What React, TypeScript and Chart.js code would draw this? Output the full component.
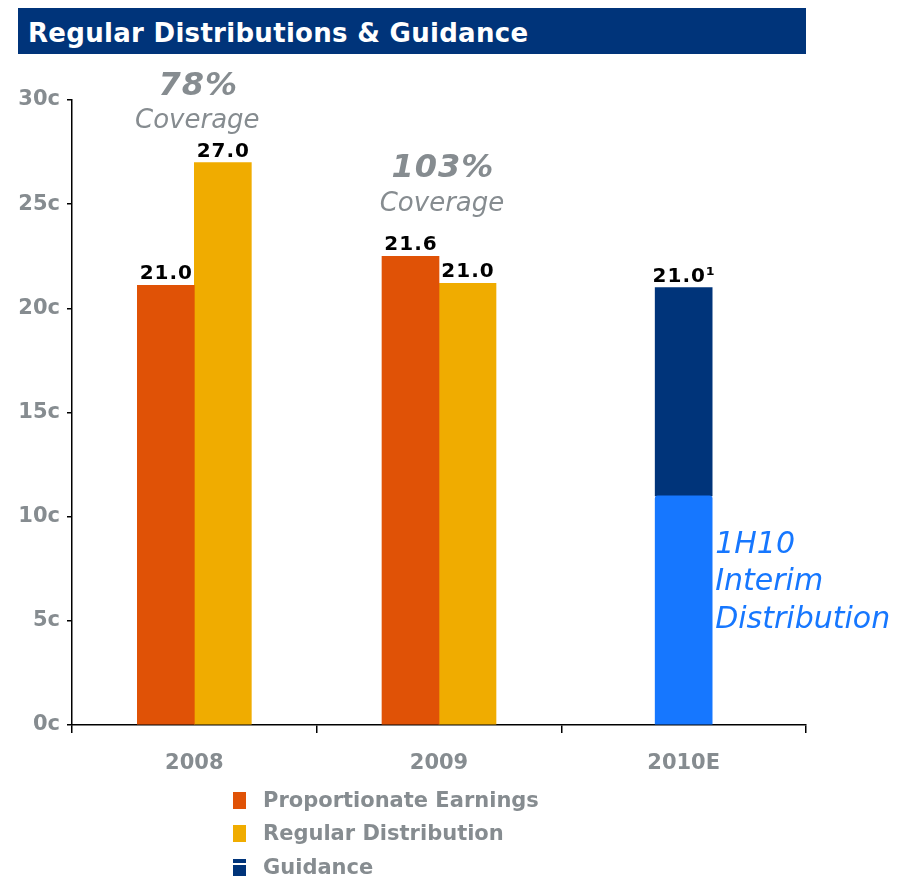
import React, { useEffect, useRef } from "react";
import { Chart, registerables } from "chart.js";

Chart.register(...registerables);

// ---------------- data ----------------
const categories = ["2008", "2009", "2010E"];
const earnings = [21.1, 22.5, null];
const distribution = [27.0, 21.2, null];
const interim = [null, null, 11.0];
const guidanceRest = [null, null, 10.0];

const earningsLabels = ["21.0", "21.6", ""];
const distributionLabels = ["27.0", "21.0", ""];
const guidanceLabels = ["", "", "21.0¹"];
const coverageLabels = ["78%", "103%", ""];
const coverageWord = "Coverage";
const interimNote = ["1H10", "Interim", "Distribution"];
const legendItems = ["Proportionate Earnings", "Regular Distribution", "Guidance"];
const titleText = "Regular Distributions & Guidance";
const yUnit = "c";

// ---------------- styles ----------------
const ORANGE = "#E05206";
const YELLOW = "#F0AC00";
const NAVY = "#00347A";
const BLUE = "#1677FF";
const GRAY = "#868C90";
const FONT = '"DejaVu Sans"';

// pixel offsets (above the tallest bar of the group) for coverage notes
const coverageOffsets = [
  { pct: 68, cov: 35 },
  { pct: 79, cov: 45 },
  { pct: 0, cov: 0 },
];

const annotPlugin = {
  id: "annot",
  afterDatasetsDraw(chart: any) {
    const ctx = chart.ctx;
    ctx.save();
    ctx.textBaseline = "alphabetic";

    const drawLabels = (dsIndex: number, labels: string[]) => {
      const meta = chart.getDatasetMeta(dsIndex);
      meta.data.forEach((el: any, i: number) => {
        const t = labels[i];
        if (!t) return;
        ctx.font = `bold 20px ${FONT}`;
        ctx.fillStyle = "#000";
        ctx.textAlign = "center";
        (ctx as any).letterSpacing = "1px";
        ctx.fillText(t, el.x + 0.5, el.y - 6);
        (ctx as any).letterSpacing = "0px";
      });
    };
    drawLabels(0, earningsLabels);
    drawLabels(1, distributionLabels);
    drawLabels(3, guidanceLabels);

    coverageLabels.forEach((t, i) => {
      if (!t) return;
      const x = chart.scales.x.getPixelForValue(i);
      const top = Math.min(
        chart.getDatasetMeta(0).data[i].y,
        chart.getDatasetMeta(1).data[i].y
      );
      const off = coverageOffsets[i];
      ctx.fillStyle = GRAY;
      ctx.textAlign = "center";
      ctx.font = `italic bold 32px ${FONT}`;
      (ctx as any).letterSpacing = "1px";
      ctx.fillText(t, x + 4, top - off.pct);
      (ctx as any).letterSpacing = "0px";
      ctx.font = `italic 26px ${FONT}`;
      ctx.fillText(coverageWord, x + 3, top - off.cov);
    });

    const el = chart.getDatasetMeta(2).data[2];
    if (el) {
      const x0 = el.x + el.width / 2 + 3;
      ctx.font = `italic 30px ${FONT}`;
      ctx.fillStyle = BLUE;
      ctx.textAlign = "left";
      interimNote.forEach((line, k) => {
        ctx.fillText(line, x0, el.y + 57 + k * 37.5);
      });
    }
    ctx.restore();
  },
};

export default function App() {
  const ref = useRef<HTMLCanvasElement | null>(null);

  useEffect(() => {
    if (!ref.current) return;
    Chart.defaults.font.family = FONT;
    const tickFont = { family: FONT, size: 21, weight: "bold" as const };
    const chart = new Chart(ref.current, {
      type: "bar",
      data: {
        labels: categories,
        datasets: [
          { label: legendItems[0], data: earnings, backgroundColor: ORANGE, stack: "pe" },
          { label: legendItems[1], data: distribution, backgroundColor: YELLOW, stack: "rd" },
          {
            label: interimNote.join(" "),
            data: interim,
            backgroundColor: BLUE,
            stack: "g",
            borderRadius: { topLeft: 3, topRight: 3, bottomLeft: 0, bottomRight: 0 },
            borderSkipped: false,
          },
          { label: legendItems[2], data: guidanceRest, backgroundColor: NAVY, stack: "g" },
        ],
      },
      options: {
        responsive: false,
        animation: false,
        layout: { padding: { top: 100, right: 97, bottom: 0, left: 0 } },
        plugins: {
          legend: { display: false },
          tooltip: { enabled: false },
          title: { display: false },
        },
        datasets: { bar: { skipNull: true, barThickness: 57 } },
        scales: {
          x: {
            grid: {
              drawOnChartArea: false,
              drawTicks: true,
              tickLength: 8,
              color: "#000",
              lineWidth: 1.5,
            },
            border: { color: "#000", width: 1.5 },
            ticks: { color: GRAY, font: tickFont, padding: 18 },
            afterFit: (s: any) => {
              s.height = 151;
            },
          },
          y: {
            stacked: true,
            min: 0,
            max: 30,
            ticks: {
              stepSize: 5,
              callback: (v: any) => v + yUnit,
              color: GRAY,
              font: tickFont,
              padding: 7,
            },
            grid: {
              drawOnChartArea: false,
              drawTicks: true,
              tickLength: 5,
              color: "#000",
              lineWidth: 1.5,
            },
            border: { color: "#000", width: 1.5 },
            afterFit: (s: any) => {
              s.width = 72;
            },
          },
        },
      },
      plugins: [annotPlugin],
    });
    return () => chart.destroy();
  }, []);

  const legendColors = [ORANGE, YELLOW, NAVY];
  const rowTops = [788, 821.3, 854.6];

  return (
    <div
      style={{
        position: "absolute",
        left: 0,
        top: 0,
        width: 903,
        height: 876,
        overflow: "hidden",
        background: "#fff",
        fontFamily: FONT,
      }}
    >
      <canvas
        ref={ref}
        width={903}
        height={876}
        style={{ position: "absolute", left: 0, top: 0 }}
      />
      <div
        style={{
          position: "absolute",
          left: 18,
          top: 8,
          width: 788,
          height: 46,
          boxSizing: "border-box",
          paddingLeft: 10,
          paddingTop: 4,
          lineHeight: "42px",
          background: NAVY,
          color: "#fff",
          fontWeight: "bold",
          fontSize: 26,
          letterSpacing: "0.3px",
          whiteSpace: "nowrap",
        }}
      >
        {titleText}
      </div>
      {legendItems.map((name, i) => (
        <div
          key={name}
          style={{
            position: "absolute",
            left: 233,
            top: rowTops[i],
            height: 24,
            lineHeight: "24px",
            whiteSpace: "nowrap",
          }}
        >
          <div
            style={{
              position: "absolute",
              left: 0,
              top: 4,
              width: 13,
              height: 17,
              background:
                i === 2
                  ? `linear-gradient(${NAVY} 0px, ${NAVY} 4px, #fff 4px, #fff 6px, ${NAVY} 6px)`
                  : legendColors[i],
            }}
          />
          <span
            style={{
              position: "absolute",
              left: 30,
              top: 0,
              color: GRAY,
              fontWeight: "bold",
              fontSize: 21,
            }}
          >
            {name}
          </span>
        </div>
      ))}
    </div>
  );
}
